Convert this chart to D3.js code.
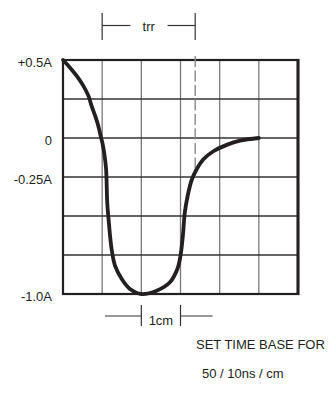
<!DOCTYPE html>
<html>
<head>
<meta charset="utf-8">
<script src="https://cdn.jsdelivr.net/npm/d3@7"></script>
<style>
  body { margin: 0; background: #fff; }
  svg { display: block; }
  text { font-family: "Liberation Sans", Arial, sans-serif; font-size: 13px; fill: #231f20; }
</style>
</head>
<body>
<svg id="chart" width="334" height="394"></svg>
<script>
// reverse recovery waveform
const timeCm = [0, 0.18, 0.35, 0.52, 0.65, 0.73, 0.82, 0.90, 0.96, 1.01, 1.06, 1.10, 1.13, 1.17, 1.24, 1.33, 1.50, 1.71, 2.0, 2.39, 2.73, 2.92, 3.00, 3.06, 3.11, 3.19, 3.29, 3.41, 3.58, 3.84, 4.18, 4.52, 5.0];
const currentA = [0.5, 0.451, 0.398, 0.334, 0.27, 0.206, 0.143, 0.079, 0.015, -0.036, -0.11, -0.20, -0.415, -0.54, -0.71, -0.82, -0.904, -0.968, -1.0, -0.979, -0.925, -0.84, -0.755, -0.628, -0.478, -0.362, -0.266, -0.202, -0.138, -0.085, -0.044, -0.017, 0.0];

const yTickValues = [0.5, 0, -0.25, -1.0];
const yTickLabels = ['+0.5A', '0', '-0.25A', '-1.0A'];
const trrMarks = [1.0, 3.375];
const cmMarks = [2, 3];
const noteLines = ['SET TIME BASE FOR', '50 / 10ns / cm'];

const svg = d3.select('#chart');
const ink = '#231f20';

const x = d3.scaleLinear().domain([0, 6]).range([63, 298]);
const y = d3.scaleLinear().domain([-1, 0.5]).range([294, 60]);

// grid
svg.append('g')
  .selectAll('line')
  .data(d3.range(1, 6))
  .enter().append('line')
    .attr('x1', d => x(d)).attr('x2', d => x(d))
    .attr('y1', y(0.5)).attr('y2', y(-1))
    .attr('stroke', '#7a7a7a')
    .attr('stroke-width', 1.3);

svg.append('g')
  .selectAll('line')
  .data(d3.range(-0.75, 0.5, 0.25))
  .enter().append('line')
    .attr('x1', x(0)).attr('x2', x(6))
    .attr('y1', d => y(d)).attr('y2', d => y(d))
    .attr('stroke', '#333')
    .attr('stroke-width', 1.3);

// frame
svg.append('rect')
  .attr('x', x(0)).attr('y', y(0.5))
  .attr('width', x(6) - x(0)).attr('height', y(-1) - y(0.5))
  .attr('fill', 'none')
  .attr('stroke', ink)
  .attr('stroke-width', 2.2);

svg.append('line')
  .attr('x1', x(6)).attr('x2', x(6))
  .attr('y1', y(0.5) - 1).attr('y2', y(-1) + 1)
  .attr('stroke', ink)
  .attr('stroke-width', 3);

// dashed marker at end of trr
svg.append('line')
  .attr('x1', x(trrMarks[1])).attr('x2', x(trrMarks[1]))
  .attr('y1', y(0.5) - 4).attr('y2', y(-0.25))
  .attr('stroke', '#8a8a8a')
  .attr('stroke-width', 1.4)
  .attr('stroke-dasharray', '11 3.5');

// y labels
svg.append('g')
  .selectAll('text')
  .data(yTickValues)
  .enter().append('text')
    .attr('x', 52)
    .attr('y', d => y(d) + 7)
    .attr('text-anchor', 'end')
    .text((d, i) => yTickLabels[i]);

// waveform
const line = d3.line()
  .x(d => x(d[0]))
  .y(d => y(d[1]))
  .curve(d3.curveCatmullRom.alpha(0.5));

svg.append('path')
  .datum(timeCm.map((t, i) => [t, currentA[i]]))
  .attr('d', line)
  .attr('fill', 'none')
  .attr('stroke', ink)
  .attr('stroke-width', 3.8)
  .attr('stroke-linecap', 'round')
  .attr('stroke-linejoin', 'round');

// trr bracket
const trr = svg.append('g').attr('stroke', '#333').attr('stroke-width', 1.2);
trr.selectAll('line.tick')
  .data(trrMarks)
  .enter().append('line')
    .attr('class', 'tick')
    .attr('x1', d => x(d)).attr('x2', d => x(d))
    .attr('y1', 13).attr('y2', 40);
trr.append('line')
  .attr('x1', x(trrMarks[0])).attr('x2', x(1.72))
  .attr('y1', 25.5).attr('y2', 25.5);
trr.append('line')
  .attr('x1', x(2.67)).attr('x2', x(trrMarks[1]))
  .attr('y1', 25.5).attr('y2', 25.5);
svg.append('text')
  .attr('x', x((trrMarks[0] + trrMarks[1]) / 2))
  .attr('y', 30.5)
  .attr('text-anchor', 'middle')
  .text('trr');

// 1cm bracket
const cm = svg.append('g').attr('stroke', '#333').attr('stroke-width', 1.2);
cm.selectAll('line.tick')
  .data(cmMarks)
  .enter().append('line')
    .attr('class', 'tick')
    .attr('x1', d => x(d)).attr('x2', d => x(d))
    .attr('y1', 305).attr('y2', 326);
cm.append('line')
  .attr('x1', x(1.07)).attr('x2', x(cmMarks[0]))
  .attr('y1', 316).attr('y2', 316);
cm.append('line')
  .attr('x1', x(cmMarks[1])).attr('x2', x(3.82))
  .attr('y1', 316).attr('y2', 316);
svg.append('text')
  .attr('x', x((cmMarks[0] + cmMarks[1]) / 2))
  .attr('y', 325)
  .attr('text-anchor', 'middle')
  .text('1cm');

// note
svg.append('g')
  .selectAll('text')
  .data(noteLines)
  .enter().append('text')
    .attr('x', (d, i) => i === 0 ? 196 : 202)
    .attr('y', (d, i) => i === 0 ? 349 : 378)
    .text(d => d);
</script>
</body>
</html>
